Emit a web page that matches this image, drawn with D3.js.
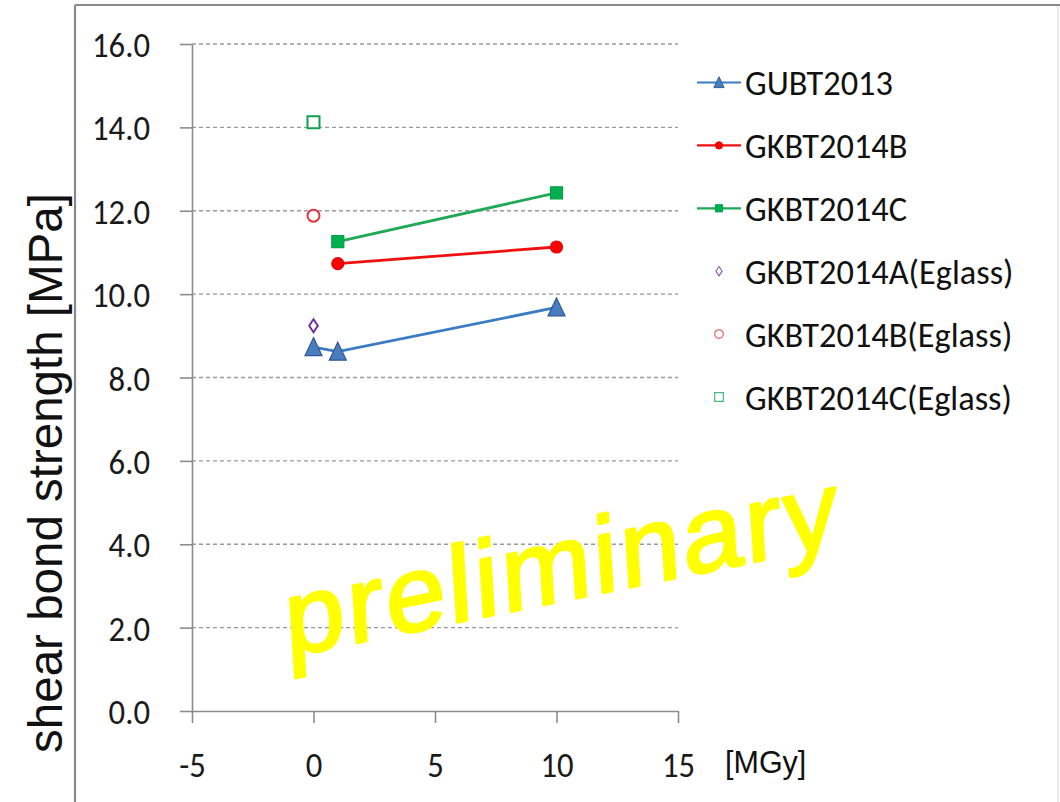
<!DOCTYPE html>
<html>
<head>
<meta charset="utf-8">
<script src="https://cdn.jsdelivr.net/npm/d3@7"></script>
<style>
  html, body { margin: 0; padding: 0; background: #fff; }
  svg { display: block; }
</style>
</head>
<body>
<svg id="chart" width="1060" height="802"></svg>
<script>
// Shear bond strength vs. irradiation dose
const doseGU = [0, 1, 10];
const gubt2013 = [8.73, 8.62, 9.68];
const doseGK = [1, 10];
const gkbt2014B = [10.73, 11.13];
const gkbt2014C = [11.26, 12.43];
const doseEglass = [0];
const gkbt2014AEglass = [9.24];
const gkbt2014BEglass = [11.88];
const gkbt2014CEglass = [14.12];

const xTicks = [-5, 0, 5, 10, 15];
const yTicks = [0, 2, 4, 6, 8, 10, 12, 14, 16];
const seriesNames = ["GUBT2013", "GKBT2014B", "GKBT2014C",
  "GKBT2014A(Eglass)", "GKBT2014B(Eglass)", "GKBT2014C(Eglass)"];
const yTitle = "shear bond strength [MPa]";
const xUnit = "[MGy]";
const watermark = "preliminary";

const series = [
  { name: seriesNames[0], xs: doseGU, ys: gubt2013, line: "#3a7cc4", fill: "#4a7cbf", stroke: "#2f5b94", shape: "triangle", open: false },
  { name: seriesNames[1], xs: doseGK, ys: gkbt2014B, line: "#f01010", fill: "#ff0000", stroke: "#e00000", shape: "circle", open: false },
  { name: seriesNames[2], xs: doseGK, ys: gkbt2014C, line: "#1fa955", fill: "#00b050", stroke: "#00a048", shape: "square", open: false },
  { name: seriesNames[3], xs: doseEglass, ys: gkbt2014AEglass, line: null, fill: "#fff", stroke: "#7030a0", shape: "diamond", open: true },
  { name: seriesNames[4], xs: doseEglass, ys: gkbt2014BEglass, line: null, fill: "#fff", stroke: "#e0303a", shape: "circle", open: true },
  { name: seriesNames[5], xs: doseEglass, ys: gkbt2014CEglass, line: null, fill: "#fff", stroke: "#10a050", shape: "square", open: true }
];

const svg = d3.select("#chart");
const x = d3.scaleLinear().domain([-5, 15]).range([192, 678]);
const y = d3.scaleLinear().domain([0, 16]).range([711, 44]);

const bodyFont = "Carlito, Lato, 'Open Sans', sans-serif";
const arialFont = "'Liberation Sans', Arial, sans-serif";

// fit a font size so that a sample string has the wanted width
function fitSize(sample, family, width) {
  const t = svg.append("text").attr("font-family", family).attr("font-size", 40).text(sample);
  const w = t.node().getComputedTextLength();
  t.remove();
  return 40 * width / w;
}
const tickSize = fitSize("16.0", bodyFont, 58);
const tickSy = 25 / (0.72 * tickSize);
const legSize = fitSize("GUBT2013", bodyFont, 148);
const legSy = 25 / (0.72 * legSize);

// outer frame
const frame = svg.append("g").attr("stroke", "#8a8a8a").attr("stroke-width", 2.2).attr("fill", "none");
frame.append("line").attr("x1", 75).attr("y1", 5).attr("x2", 1060).attr("y2", 5);
frame.append("line").attr("x1", 75).attr("y1", 5).attr("x2", 75).attr("y2", 802);
svg.append("line").attr("x1", 1058).attr("y1", 6).attr("x2", 1058).attr("y2", 802)
  .attr("stroke", "#e4e4e4").attr("stroke-width", 1.5);

// horizontal gridlines
svg.append("g").selectAll("line")
  .data(yTicks.filter(d => d > 0))
  .join("line")
  .attr("x1", x(-5)).attr("x2", x(15))
  .attr("y1", d => y(d)).attr("y2", d => y(d))
  .attr("stroke", "#9a9a9a").attr("stroke-width", 1.3)
  .attr("stroke-dasharray", "4,3");

// y axis
const yAxis = svg.append("g").attr("transform", `translate(${x(-5)},0)`)
  .call(d3.axisLeft(y).tickValues(yTicks).tickSize(12).tickSizeOuter(0).tickFormat(d => d.toFixed(1)));
// x axis
const xAxis = svg.append("g").attr("transform", `translate(0,${y(0)})`)
  .call(d3.axisBottom(x).tickValues(xTicks).tickSize(12).tickSizeOuter(0).tickFormat(d => String(d)));

[yAxis, xAxis].forEach(a => {
  a.select(".domain").attr("stroke", "#8c8c8c").attr("stroke-width", 1.6);
  a.selectAll(".tick line").attr("stroke", "#8c8c8c").attr("stroke-width", 1.6);
  a.selectAll(".tick text")
    .attr("font-family", bodyFont).attr("font-size", tickSize)
    .attr("fill", "#1a1a1a");
});
yAxis.selectAll(".tick text")
  .attr("text-anchor", "end").attr("x", -42).attr("dy", null)
  .attr("y", 0.36 * tickSize)
  .attr("transform", `scale(1,${tickSy})`);
xAxis.selectAll(".tick text")
  .attr("text-anchor", "middle").attr("dy", null)
  .attr("y", 66 / tickSy)
  .attr("transform", `scale(1,${tickSy})`);

// axis titles
svg.append("text")
  .attr("transform", "translate(62,473) rotate(-90)")
  .attr("text-anchor", "middle")
  .attr("font-family", arialFont).attr("font-size", 47.5)
  .attr("fill", "#111")
  .text(yTitle);
svg.append("text")
  .attr("x", 725).attr("y", 773)
  .attr("font-family", arialFont).attr("font-size", 30.5)
  .attr("fill", "#111")
  .text(xUnit);

// watermark
svg.append("text")
  .attr("transform", "translate(287,657) rotate(-3.5) skewY(-8)")
  .attr("font-family", arialFont).attr("font-size", 108)
  .attr("letter-spacing", 3)
  .attr("fill", "#ffff00")
  .attr("stroke", "#ffff00").attr("stroke-width", 2.8).attr("stroke-linejoin", "round")
  .text(watermark);

// marker shapes centred on (0,0)
function markerPath(shape, k) {
  switch (shape) {
    case "triangle": return `M0,${-9.5 * k}L${8.5 * k},${8.5 * k}L${-8.5 * k},${8.5 * k}Z`;
    case "square": return `M${-6 * k},${-6 * k}H${6 * k}V${6 * k}H${-6 * k}Z`;
    case "diamond": return `M0,${-6.5 * k}L${4.3 * k},0L0,${6.5 * k}L${-4.3 * k},0Z`;
    default: return d3.arc()({ innerRadius: 0, outerRadius: 6 * k, startAngle: 0, endAngle: 2 * Math.PI });
  }
}

// series lines and markers
const plot = svg.append("g");
series.forEach(s => {
  const pts = s.xs.map((d, i) => [d, s.ys[i]]);
  if (s.line) {
    plot.append("path")
      .datum(pts)
      .attr("fill", "none")
      .attr("stroke", s.line).attr("stroke-width", 2.8)
      .attr("d", d3.line().x(d => x(d[0])).y(d => y(d[1])));
  }
  plot.append("g").selectAll("path")
    .data(pts)
    .join("path")
    .attr("transform", d => `translate(${x(d[0])},${y(d[1])})`)
    .attr("d", markerPath(s.shape, 1))
    .attr("fill", s.fill)
    .attr("stroke", s.stroke)
    .attr("stroke-width", s.open ? 2 : 1.2);
});

// legend
const legend = svg.append("g");
series.forEach((s, i) => {
  const cy = 82.5 + i * 62.9;
  const g = legend.append("g").attr("transform", `translate(0,${cy})`);
  if (s.line) {
    g.append("line").attr("x1", 697).attr("x2", 741).attr("y1", 0).attr("y2", 0)
      .attr("stroke", s.line).attr("stroke-width", 2.2);
  }
  g.append("path")
    .attr("transform", "translate(719,0)")
    .attr("d", markerPath(s.shape, s.open ? 0.72 : 0.6))
    .attr("fill", s.fill)
    .attr("stroke", s.open ? d3.interpolateRgb(s.stroke, "#fff")(0.25) : s.stroke)
    .attr("stroke-width", s.open ? 1.2 : 1);
  g.append("text")
    .attr("transform", `translate(745,12.5) scale(1,${legSy})`)
    .attr("font-family", bodyFont).attr("font-size", legSize)
    .attr("fill", "#111")
    .text(s.name);
});
</script>
</body>
</html>
